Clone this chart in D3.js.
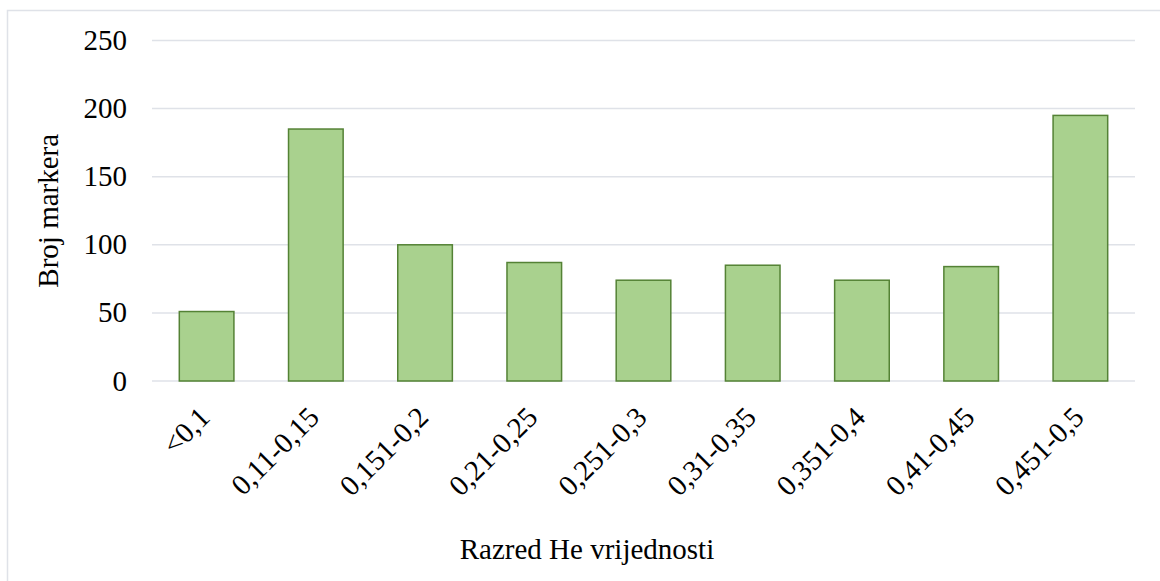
<!DOCTYPE html>
<html lang="hr">
<head>
    <meta charset="UTF-8">
    <title>Razred He vrijednosti</title>
    <script src="https://d3js.org/d3.v7.min.js"></script>
    <style>
        body { margin: 0; background: #fff; }
    </style>
</head>
<body>
    <svg id="chart" width="1160" height="581"></svg>

    <script>
        // podaci
        const razredi = ["<0,1", "0,11-0,15", "0,151-0,2", "0,21-0,25", "0,251-0,3",
                         "0,31-0,35", "0,351-0,4", "0,41-0,45", "0,451-0,5"];
        const brojMarkera = [51, 185, 100, 87, 74, 85, 74, 84, 195];
        const yTicks = [0, 50, 100, 150, 200, 250];

        const width = 1160;
        const height = 581;
        const margin = { top: 40.5, right: 25, bottom: 200, left: 152 };
        const font = "'Liberation Serif', Tinos, 'Times New Roman', Times, 'DejaVu Serif', serif";

        const svg = d3.select("#chart")
            .attr("font-family", font);

        // okvir grafikona
        svg.append("rect")
            .attr("x", 7.5)
            .attr("y", 10.5)
            .attr("width", 1160)
            .attr("height", 600)
            .attr("fill", "none")
            .attr("stroke", "#dfe2e8")
            .attr("stroke-width", 1.5);

        const x = d3.scaleBand()
            .domain(razredi)
            .range([margin.left, width - margin.right])
            .paddingInner(0.5)
            .paddingOuter(0.25);

        const y = d3.scaleLinear()
            .domain([0, 250])
            .range([height - margin.bottom, margin.top]);

        // mreža
        svg.append("g")
            .selectAll("line")
            .data(yTicks)
            .enter()
            .append("line")
            .attr("x1", margin.left)
            .attr("x2", width - margin.right)
            .attr("y1", d => y(d))
            .attr("y2", d => y(d))
            .attr("stroke", "#dfe2e8")
            .attr("stroke-width", 1.5);

        // oznake y osi
        svg.append("g")
            .selectAll("text")
            .data(yTicks)
            .enter()
            .append("text")
            .attr("x", 127)
            .attr("y", d => y(d))
            .attr("dy", "0.33em")
            .attr("text-anchor", "end")
            .attr("font-family", font)
            .attr("font-size", "29px")
            .text(d => d);

        // stupci
        svg.append("g")
            .selectAll("rect")
            .data(brojMarkera)
            .enter()
            .append("rect")
            .attr("x", (d, i) => x(razredi[i]))
            .attr("y", d => y(d))
            .attr("width", x.bandwidth())
            .attr("height", d => y(0) - y(d))
            .attr("fill", "#a9d18e")
            .attr("stroke", "#548235")
            .attr("stroke-width", 1.5);

        // oznake x osi (zakrenute)
        svg.append("g")
            .selectAll("text")
            .data(razredi)
            .enter()
            .append("text")
            .attr("transform", d => `translate(${x(d) + x.bandwidth() / 2 + 5},${y(0) + 38}) rotate(-45)`)
            .attr("text-anchor", "end")
            .attr("font-family", font)
            .attr("font-size", "29px")
            .text(d => d);

        // naslovi osi
        svg.append("text")
            .attr("x", 587)
            .attr("y", 559)
            .attr("text-anchor", "middle")
            .attr("font-family", font)
            .attr("font-size", "29px")
            .text("Razred He vrijednosti");

        svg.append("text")
            .attr("transform", `translate(58,${(y(0) + y(250)) / 2}) rotate(-90)`)
            .attr("text-anchor", "middle")
            .attr("font-family", font)
            .attr("font-size", "29px")
            .text("Broj markera");
    </script>
</body>
</html>
